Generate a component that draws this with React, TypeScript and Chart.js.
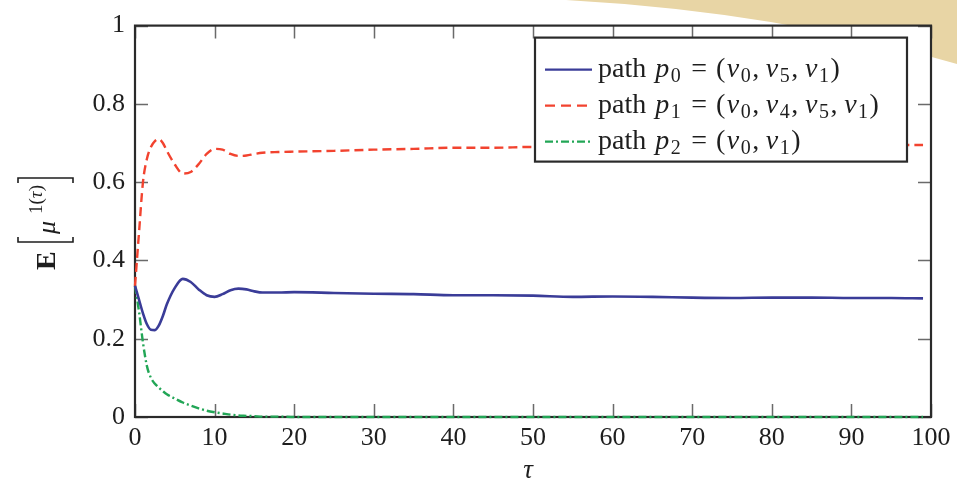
import React, { useEffect, useRef } from "react";
import { Chart, registerables } from "chart.js";

Chart.register(...registerables);

// ---------- data ----------
const TAU = [0, 0.5, 1, 1.5, 2, 2.5, 3, 3.5, 4, 5, 6, 7, 8, 9, 10, 11, 12, 13, 14, 15, 16, 18, 20, 25, 30, 35, 40, 45, 50, 55, 60, 65, 70, 75, 80, 85, 90, 95, 99];
const P0 = [0.335, 0.3, 0.265, 0.237, 0.223, 0.222, 0.234, 0.258, 0.288, 0.33, 0.353, 0.345, 0.326, 0.311, 0.307, 0.314, 0.324, 0.328, 0.326, 0.321, 0.318, 0.318, 0.319, 0.317, 0.315, 0.314, 0.311, 0.311, 0.31, 0.307, 0.308, 0.307, 0.305, 0.304, 0.305, 0.305, 0.304, 0.304, 0.303];
const P1 = [0.335, 0.47, 0.6, 0.66, 0.69, 0.705, 0.71, 0.7, 0.68, 0.645, 0.622, 0.626, 0.646, 0.672, 0.685, 0.683, 0.672, 0.667, 0.668, 0.672, 0.675, 0.677, 0.678, 0.68, 0.683, 0.685, 0.688, 0.688, 0.69, 0.69, 0.691, 0.692, 0.692, 0.693, 0.693, 0.694, 0.694, 0.695, 0.695];
const P2 = [0.335, 0.27, 0.19, 0.13, 0.1, 0.085, 0.075, 0.066, 0.058, 0.047, 0.037, 0.029, 0.022, 0.016, 0.012, 0.009, 0.006, 0.004, 0.003, 0.002, 0.001, 0.001, 0, 0, 0, 0, 0, 0, 0, 0, 0, 0, 0, 0, 0, 0, 0, 0, 0];

const SERIES = [P0, P1, P2];
const LEGEND_LABELS = ["path p_0 = (v_0, v_5, v_1)", "path p_1 = (v_0, v_4, v_5, v_1)", "path p_2 = (v_0, v_1)"];
const COLORS = ["#3a3c98", "#f2432f", "#22a656"];
const DASHES: number[][] = [[], [9, 5], [8, 3, 2, 3]];

const X_MIN = 0, X_MAX = 100, X_STEP = 10;
const Y_MIN = 0, Y_MAX = 1, Y_STEP = 0.2;
const Y_TICK_LABELS: Record<string, string> = { "0": "0", "0.2": "0.2", "0.4": "0.4", "0.6": "0.6", "0.8": "0.8", "1": "1" };
const X_TITLE = "τ";
const Y_TITLE_BASE = "E";
const Y_TITLE_BODY = "μ";
const Y_TITLE_SUP = ["1", "(", "τ", ")"];

const FONT = "'Liberation Serif', 'DejaVu Serif', serif";
const INK = "#1e1e1e";

function drawMathLabel(ctx: CanvasRenderingContext2D, label: string, x: number, y: number, size: number) {
  const sp = label.indexOf(" ");
  const word = label.slice(0, sp);
  const rest = label.slice(sp + 1);
  ctx.textBaseline = "alphabetic";
  ctx.textAlign = "left";
  ctx.font = `${size}px ${FONT}`;
  ctx.fillText(word, x, y);
  x += ctx.measureText(word).width + size * 0.32;
  for (let i = 0; i < rest.length; i++) {
    const c = rest[i];
    if (c === " ") continue;
    if (c === "_") {
      const s = rest[++i];
      ctx.font = `${Math.round(size * 0.72)}px ${FONT}`;
      ctx.fillText(s, x + 1, y + size * 0.2);
      x += ctx.measureText(s).width + 2.5;
      continue;
    }
    if (c === "=") {
      ctx.font = `${size}px ${FONT}`;
      x += size * 0.32;
      ctx.fillText("=", x, y);
      x += ctx.measureText("=").width + size * 0.32;
      continue;
    }
    if (c === ",") {
      ctx.font = `${size}px ${FONT}`;
      ctx.fillText(",", x, y);
      x += ctx.measureText(",").width + size * 0.24;
      continue;
    }
    if (/[a-z]/.test(c)) {
      ctx.font = `italic ${size}px ${FONT}`;
    } else {
      ctx.font = `${size}px ${FONT}`;
    }
    ctx.fillText(c, x, y);
    x += ctx.measureText(c).width + (c === "(" ? 1.5 : 0.5);
  }
}

const backgroundPlugin = {
  id: "bg",
  beforeDraw(chart: any) {
    const { ctx, chartArea, width } = chart;
    ctx.save();
    ctx.fillStyle = "#ffffff";
    ctx.fillRect(0, 0, chart.width, chart.height);
    ctx.fillStyle = "#e8d5a5";
    ctx.beginPath();
    ctx.moveTo(566, 0);
    ctx.quadraticCurveTo(780, 12, width, 64);
    ctx.lineTo(width, 0);
    ctx.closePath();
    ctx.fill();
    ctx.fillStyle = "#ffffff";
    ctx.fillRect(chartArea.left, chartArea.top, chartArea.right - chartArea.left, chartArea.bottom - chartArea.top);
    ctx.restore();
  },
  beforeDatasetsDraw(chart: any) {
    const { ctx, chartArea: a, scales } = chart;
    const xs = scales.x, ys = scales.y;
    ctx.save();
    ctx.strokeStyle = "#6a6a6a";
    ctx.lineWidth = 1.5;
    const tl = 13;
    ctx.beginPath();
    xs.ticks.forEach((t: any) => {
      const px = Math.round(xs.getPixelForValue(t.value)) + 0.5;
      ctx.moveTo(px, a.bottom); ctx.lineTo(px, a.bottom - tl);
      ctx.moveTo(px, a.top); ctx.lineTo(px, a.top + tl);
    });
    ys.ticks.forEach((t: any) => {
      const py = Math.round(ys.getPixelForValue(t.value)) + 0.5;
      ctx.moveTo(a.left, py); ctx.lineTo(a.left + tl, py);
      ctx.moveTo(a.right, py); ctx.lineTo(a.right - tl, py);
    });
    ctx.stroke();
    ctx.strokeStyle = "#2a2a2a";
    ctx.lineWidth = 2.2;
    ctx.strokeRect(a.left, a.top, a.right - a.left, a.bottom - a.top);
    ctx.restore();
  },
};

const overlayPlugin = {
  id: "overlay",
  afterDatasetsDraw(chart: any) {
    const { ctx, chartArea: a } = chart;
    ctx.save();
    // legend
    const lx = a.right - 396, ly = a.top + 12, lw = 372, lh = 124;
    ctx.fillStyle = "#ffffff";
    ctx.fillRect(lx, ly, lw, lh);
    ctx.strokeStyle = "#2a2a2a";
    ctx.lineWidth = 2.2;
    ctx.strokeRect(lx, ly, lw, lh);
    LEGEND_LABELS.forEach((lab, i) => {
      const cy = ly + 32 + i * 36;
      ctx.strokeStyle = COLORS[i];
      ctx.lineWidth = 2.2;
      ctx.setLineDash(i === 1 ? [10, 6] : i === 2 ? [8, 3, 2, 3] : []);
      ctx.beginPath();
      ctx.moveTo(lx + 10, cy);
      ctx.lineTo(lx + 57, cy);
      ctx.stroke();
      ctx.setLineDash([]);
      ctx.fillStyle = INK;
      drawMathLabel(ctx, lab, lx + 63, cy + 7, 28);
    });

    // x title
    ctx.fillStyle = INK;
    ctx.font = `italic 27px ${FONT}`;
    ctx.textAlign = "center";
    ctx.textBaseline = "middle";
    ctx.fillText(X_TITLE, (a.left + a.right) / 2 - 5, 471);

    // y title (rotated)
    ctx.translate(55, 270);
    ctx.rotate(-Math.PI / 2);
    ctx.textAlign = "left";
    ctx.textBaseline = "alphabetic";
    ctx.font = `bold 28px ${FONT}`;
    ctx.fillText(Y_TITLE_BASE, 0, 0);
    ctx.strokeStyle = INK;
    ctx.lineWidth = 1.6;
    ctx.beginPath();
    ctx.moveTo(33, -37); ctx.lineTo(28, -37); ctx.lineTo(28, 18); ctx.lineTo(33, 18);
    ctx.stroke();
    ctx.font = `italic 26px ${FONT}`;
    ctx.fillText(Y_TITLE_BODY, 36, 0);
    let sx = 56;
    Y_TITLE_SUP.forEach((s) => {
      ctx.font = s === "τ" ? `italic 19px ${FONT}` : `19px ${FONT}`;
      ctx.fillText(s, sx, -13);
      sx += ctx.measureText(s).width;
    });
    ctx.beginPath();
    ctx.moveTo(sx + 2, -37); ctx.lineTo(sx + 7, -37); ctx.lineTo(sx + 7, 18); ctx.lineTo(sx + 2, 18);
    ctx.stroke();
    ctx.restore();
  },
};

export default function App() {
  const ref = useRef<HTMLCanvasElement>(null);
  useEffect(() => {
    const datasets = SERIES.map((vals, i) => ({
      label: LEGEND_LABELS[i],
      data: TAU.map((t, j) => ({ x: t, y: vals[j] })),
      borderColor: COLORS[i],
      borderWidth: i === 0 ? 2.6 : 2.4,
      borderDash: DASHES[i],
      pointRadius: 0,
      fill: false,
      clip: 6,
      cubicInterpolationMode: "monotone" as const,
    }));
    const chart = new Chart(ref.current!, {
      type: "line",
      data: { datasets },
      options: {
        animation: false,
        responsive: false,
        maintainAspectRatio: false,
        layout: { padding: { left: 0, top: 17, right: 26, bottom: 0 } },
        plugins: { legend: { display: false }, tooltip: { enabled: false } },
        scales: {
          x: {
            type: "linear",
            min: X_MIN,
            max: X_MAX,
            grid: { display: false, drawTicks: false },
            border: { display: false },
            ticks: { stepSize: X_STEP, color: INK, padding: 6, maxRotation: 0, font: { family: FONT, size: 26 } },
            afterFit: (s: any) => { s.height = 64; },
          },
          y: {
            type: "linear",
            min: Y_MIN,
            max: Y_MAX,
            grid: { display: false, drawTicks: false },
            border: { display: false },
            ticks: {
              stepSize: Y_STEP,
              color: INK,
              padding: 10,
              font: { family: FONT, size: 26 },
              callback: (v: any) => Y_TICK_LABELS[String(Math.round(Number(v) * 10) / 10)] ?? String(v),
            },
            afterFit: (s: any) => { s.width = 135; },
          },
        },
      },
      plugins: [backgroundPlugin, overlayPlugin],
    });
    return () => chart.destroy();
  }, []);
  return (
    <div style={{ position: "absolute", left: 0, top: 0, width: 957, height: 481 }}>
      <canvas ref={ref} width={957} height={481} style={{ display: "block" }} />
    </div>
  );
}
